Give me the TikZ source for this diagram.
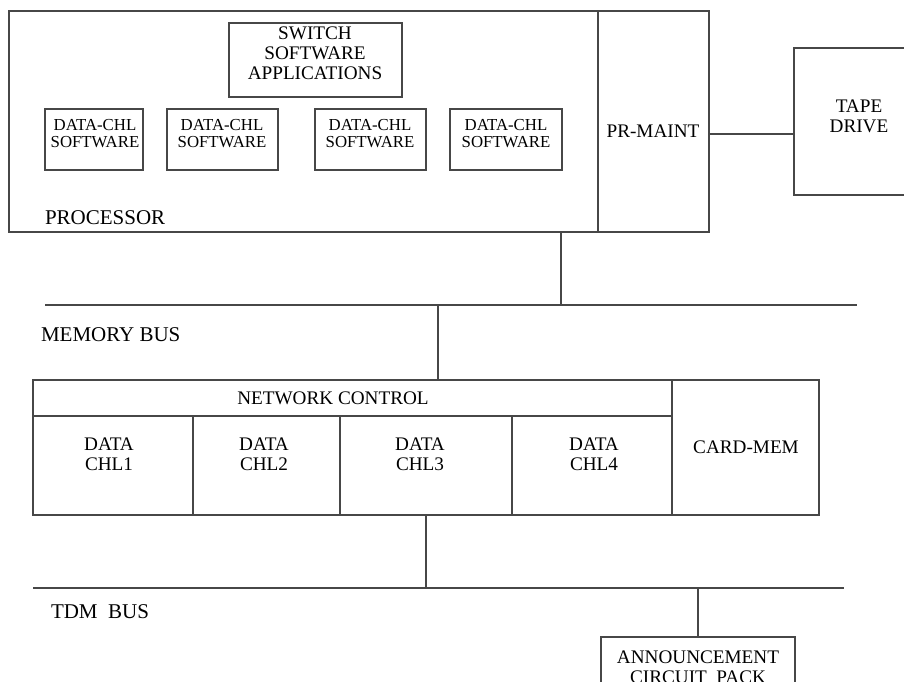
\documentclass[tikz,border=0pt]{standalone}
\usepackage{fontspec}
\setmainfont{Liberation Serif}
\begin{document}
\begin{tikzpicture}[x=1pt,y=-1pt,
  ln/.style={draw=black!72,line width=1.1pt},
  box/.style={ln,rectangle,inner sep=0pt,outer sep=0pt,anchor=north west},
  txt/.style={inner sep=0pt,outer sep=0pt,align=center,anchor=base,font=\fontsize{19.2}{20}\selectfont},
  small/.style={txt,font=\fontsize{16.8}{17}\selectfont},
  lbl/.style={inner sep=0pt,outer sep=0pt,anchor=base west,font=\fontsize{21}{22}\selectfont}]
\useasboundingbox (0,0) rectangle (904,682);
\clip (0,0) rectangle (904,682);
\fill[white] (0,0) rectangle (904,682);
% processor
\node[box,minimum width=589pt,minimum height=221pt] (proc) at (9,11) {};
\node[box,minimum width=111pt,minimum height=221pt] (prm) at (598,11) {};
\node[box,minimum width=173pt,minimum height=74pt] (sw) at (229,23) {};
\node[box,minimum width=98pt,minimum height=61pt] (d1) at (45,109) {};
\node[box,minimum width=111pt,minimum height=61pt] (d2) at (167,109) {};
\node[box,minimum width=111pt,minimum height=61pt] (d3) at (315,109) {};
\node[box,minimum width=112pt,minimum height=61pt] (d4) at (450,109) {};
\node[box,minimum width=130pt,minimum height=147pt] (tape) at (794,48) {};
\node[txt] (swt) at (315,80) {SWITCH\\SOFTWARE\\APPLICATIONS};
\node[small] (d1t) at (95,147) {DATA-CHL\\SOFTWARE};
\node[small] (d2t) at (222,147) {DATA-CHL\\SOFTWARE};
\node[small] (d3t) at (370,147) {DATA-CHL\\SOFTWARE};
\node[small] (d4t) at (506,147) {DATA-CHL\\SOFTWARE};
\node[lbl] (proct) at (45,224) {PROCESSOR};
\node[txt] (prmt) at (653,137) {PR-MAINT};
\node[txt] (tapet) at (859,132) {TAPE\\DRIVE};
\coordinate (tapeW) at (794,134);
\draw[ln] (prm.east |- tapeW) -- (tapeW);
% memory bus
\coordinate (mb1) at (45,305);
\coordinate (mb2) at (857,305);
\draw[ln] (mb1) -- (mb2);
\coordinate (pj) at (561,232);
\draw[ln] (pj) -- (pj |- mb1);
\node[lbl] (mbt) at (41,341) {MEMORY BUS};
% network
\node[box,minimum width=639pt,minimum height=36pt] (nc) at (33,380) {};
\node[box,minimum width=160pt,minimum height=99pt] (c1) at (33,416) {};
\node[box,minimum width=147pt,minimum height=99pt] (c2) at (193,416) {};
\node[box,minimum width=172pt,minimum height=99pt] (c3) at (340,416) {};
\node[box,minimum width=160pt,minimum height=99pt] (c4) at (512,416) {};
\node[box,minimum width=147pt,minimum height=135pt] (cm) at (672,380) {};
\coordinate (nj) at (438,380);
\draw[ln] (nj |- mb1) -- (nj);
\node[txt] (nct) at (333,404) {NETWORK CONTROL};
\node[txt] (c1t) at (109,470) {DATA\\CHL1};
\node[txt] (c2t) at (264,470) {DATA\\CHL2};
\node[txt] (c3t) at (420,470) {DATA\\CHL3};
\node[txt] (c4t) at (594,470) {DATA\\CHL4};
\node[txt] (cmt) at (746,453) {CARD-MEM};
% tdm bus
\coordinate (tb1) at (33,588);
\coordinate (tb2) at (844,588);
\draw[ln] (tb1) -- (tb2);
\coordinate (tj) at (426,515);
\draw[ln] (tj) -- (tj |- tb1);
\node[lbl] (tbt) at (51,618) {TDM\ \ BUS};
\node[box,minimum width=194pt,minimum height=70pt] (ann) at (601,637) {};
\draw[ln] (ann.north |- tb1) -- (ann.north);
\node[txt] (annt) at (698,683) {ANNOUNCEMENT\\CIRCUIT\ \ PACK};
\end{tikzpicture}
\end{document}
